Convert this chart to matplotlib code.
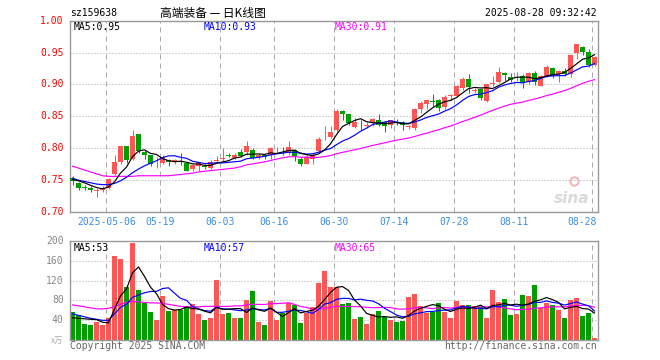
import numpy as np
import pandas as pd
import matplotlib
matplotlib.use('Agg')
import matplotlib.pyplot as plt
from matplotlib.transforms import blended_transform_factory

# daily bars, 2025-04-23 .. 2025-08-28
opens = [0.753, 0.746, 0.739, 0.738, 0.733, 0.734, 0.737, 0.760, 0.778, 0.803,
         0.784, 0.822, 0.794, 0.789, 0.772, 0.777, 0.781, 0.780, 0.780, 0.777,
         0.768, 0.772, 0.773, 0.769, 0.780, 0.784, 0.789, 0.785, 0.794, 0.794,
         0.797, 0.786, 0.789, 0.790, 0.797, 0.798, 0.793, 0.797, 0.784, 0.776,
         0.783, 0.795, 0.817, 0.818, 0.829, 0.859, 0.853, 0.834, 0.840, 0.835,
         0.839, 0.845, 0.841, 0.837, 0.842, 0.841, 0.834, 0.832, 0.861, 0.869,
         0.874, 0.875, 0.865, 0.882, 0.882, 0.895, 0.909, 0.890, 0.893, 0.874,
         0.901, 0.904, 0.918, 0.912, 0.913, 0.914, 0.904, 0.918, 0.898, 0.914,
         0.926, 0.916, 0.921, 0.917, 0.949, 0.959, 0.951, 0.931]
highs = [0.757, 0.747, 0.743, 0.741, 0.737, 0.741, 0.753, 0.789, 0.804, 0.804,
         0.829, 0.823, 0.798, 0.790, 0.786, 0.789, 0.784, 0.784, 0.793, 0.779,
         0.775, 0.779, 0.776, 0.781, 0.788, 0.800, 0.793, 0.792, 0.799, 0.811,
         0.800, 0.793, 0.791, 0.802, 0.802, 0.802, 0.811, 0.799, 0.787, 0.790,
         0.792, 0.817, 0.835, 0.835, 0.861, 0.860, 0.854, 0.847, 0.845, 0.841,
         0.847, 0.854, 0.843, 0.845, 0.846, 0.843, 0.837, 0.863, 0.874, 0.877,
         0.885, 0.877, 0.883, 0.885, 0.899, 0.912, 0.917, 0.894, 0.894, 0.901,
         0.913, 0.928, 0.919, 0.918, 0.919, 0.916, 0.919, 0.921, 0.915, 0.931,
         0.927, 0.923, 0.926, 0.947, 0.964, 0.961, 0.956, 0.944]
lows = [0.743, 0.734, 0.734, 0.732, 0.723, 0.732, 0.736, 0.758, 0.776, 0.777,
        0.782, 0.792, 0.784, 0.772, 0.769, 0.776, 0.772, 0.775, 0.774, 0.764,
        0.764, 0.765, 0.767, 0.768, 0.779, 0.779, 0.787, 0.784, 0.787, 0.790,
        0.783, 0.783, 0.783, 0.784, 0.793, 0.790, 0.790, 0.780, 0.773, 0.775,
        0.775, 0.792, 0.813, 0.816, 0.825, 0.845, 0.836, 0.832, 0.829, 0.832,
        0.835, 0.835, 0.825, 0.832, 0.837, 0.828, 0.831, 0.829, 0.855, 0.862,
        0.867, 0.858, 0.862, 0.876, 0.880, 0.892, 0.886, 0.887, 0.875, 0.873,
        0.898, 0.902, 0.906, 0.904, 0.906, 0.895, 0.901, 0.899, 0.897, 0.911,
        0.910, 0.904, 0.913, 0.911, 0.940, 0.946, 0.928, 0.929]
closes = [0.749, 0.737, 0.738, 0.735, 0.734, 0.738, 0.752, 0.779, 0.803, 0.781,
          0.820, 0.795, 0.789, 0.775, 0.773, 0.787, 0.779, 0.781, 0.779, 0.765,
          0.774, 0.778, 0.770, 0.779, 0.781, 0.785, 0.788, 0.790, 0.788, 0.803,
          0.785, 0.790, 0.786, 0.800, 0.798, 0.797, 0.802, 0.788, 0.776, 0.787,
          0.790, 0.815, 0.818, 0.825, 0.859, 0.854, 0.839, 0.841, 0.839, 0.836,
          0.846, 0.837, 0.835, 0.844, 0.840, 0.837, 0.835, 0.862, 0.871, 0.876,
          0.873, 0.863, 0.881, 0.883, 0.898, 0.909, 0.896, 0.891, 0.879, 0.900,
          0.902, 0.919, 0.915, 0.907, 0.914, 0.903, 0.918, 0.904, 0.914, 0.928,
          0.914, 0.921, 0.917, 0.946, 0.963, 0.951, 0.931, 0.943]
# volume in 万
volumes = [57, 51, 32, 30, 37, 31, 44, 170, 164, 106,
           195, 101, 75, 56, 40, 88, 58, 61, 61, 66,
           72, 53, 40, 44, 121, 53, 54, 45, 45, 81,
           98, 36, 30, 78, 40, 54, 75, 71, 34, 55,
           66, 114, 139, 106, 107, 73, 75, 43, 47, 32,
           53, 58, 47, 40, 37, 38, 86, 92, 68, 55,
           57, 75, 56, 45, 78, 70, 70, 68, 66, 45,
           100, 76, 83, 50, 53, 90, 88, 110, 65, 75,
           70, 60, 45, 80, 85, 48, 55, 5]

# moving averages before enough bars are visible
ma5_head = [0.751, 0.749, 0.746, 0.742]
ma10_head = [0.753, 0.750, 0.748, 0.746, 0.744, 0.743, 0.743, 0.745, 0.749]
ma30_head = [0.772, 0.769, 0.766, 0.763, 0.760, 0.757, 0.756, 0.756, 0.756, 0.756,
             0.756, 0.757, 0.757, 0.757, 0.757, 0.757, 0.757, 0.758, 0.759, 0.760,
             0.761, 0.763, 0.764, 0.765, 0.766, 0.767, 0.768, 0.769, 0.771]
vma5_head = [45, 44, 43, 42]
vma10_head = [53, 50, 47, 44, 42, 40, 40, 53, 66]
vma30_head = [71, 69, 67, 65, 63, 63, 64, 68, 72, 76, 78, 77, 76, 75, 75,
              74, 72, 70, 68, 67, 67, 67, 68, 68, 68, 68, 68, 69, 69]

tick_idx = [6, 15, 25, 34, 44, 54, 64, 74, 87]
tick_labels = ['2025-05-06', '05-19', '06-03', '06-16', '06-30',
               '07-14', '07-28', '08-11', '08-28']
price_ticks = [0.70, 0.75, 0.80, 0.85, 0.90, 0.95, 1.00]
vol_ticks = [40, 80, 120, 160, 200]
vol_legend = ['MA5:53', 'MA10:57', 'MA30:65']


def moving(values, n, head):
    s = pd.Series(values, dtype=float).rolling(n).mean()
    s.iloc[:n - 1] = head
    return s.values


ma5 = moving(closes, 5, ma5_head)
ma10 = moving(closes, 10, ma10_head)
ma30 = moving(closes, 30, ma30_head)
vma5 = moving(volumes, 5, vma5_head)
vma10 = moving(volumes, 10, vma10_head)
vma30 = moving(volumes, 30, vma30_head)

RED = '#ff5555'
GREEN = '#009f00'
GRID = '#aaaaaa'
MONO = 'DejaVu Sans Mono'
W, H = 660, 360

fig = plt.figure(figsize=(6.6, 3.6), dpi=100)


def rect(x0, y0, x1, y1):
    return [x0 / W, 1 - y1 / H, (x1 - x0) / W, (y1 - y0) / H]


ax = fig.add_axes(rect(70, 20.7, 597.7, 212.1))
axv = fig.add_axes(rect(70, 240.7, 597.7, 340.2))

x = np.arange(len(closes))
o = np.array(opens)
c = np.array(closes)
up = c >= o
colors = np.where(up, RED, GREEN)

for a in (ax, axv):
    a.set_xlim(-0.42, 87.53)
    a.set_xticks([])
    a.set_yticks([])
    for s in a.spines.values():
        s.set_color('#999999')
        s.set_linewidth(1)
    for t in tick_idx:
        a.axvline(t - 0.35, color=GRID, lw=0.72, linestyle=(0, (5, 4)), zorder=0)

# price panel
ax.set_ylim(0.70, 1.00)
for p in price_ticks[1:-1]:
    ax.axhline(p, color=GRID, lw=0.72, linestyle=(0, (1, 2)), zorder=0)
ax.vlines(x, lows, highs, colors=colors, lw=0.75, zorder=2)
body = np.maximum(np.abs(c - o), 0.0009)
ax.bar(x, body, bottom=np.minimum(o, c), width=0.82, color=colors, zorder=3, linewidth=0)
ax.plot(x, ma30, color='#ff00ff', lw=0.85, zorder=4)
ax.plot(x, ma10, color='#0000ff', lw=0.85, zorder=4)
ax.plot(x, ma5, color='black', lw=0.85, zorder=4)

for p in price_ticks:
    ax.text(-0.012, p, f'{p:.2f}', transform=blended_transform_factory(ax.transAxes, ax.transData),
            ha='right', va='center', color='#ff0000', family=MONO, fontsize=7)

bt = blended_transform_factory(ax.transData, ax.transAxes)
for t, lab in zip(tick_idx, tick_labels):
    ha = 'right' if t == tick_idx[-1] else 'center'
    xx = 87.4 if t == tick_idx[-1] else t - 0.35
    ax.text(xx, -0.052, lab, transform=bt, ha=ha, va='center',
            color='#3a8ee6', family=MONO, fontsize=7)

ax.text(4 / 527.7, 1 - 6.5 / 191.4, f'MA5:{ma5[-1]:.2f}', transform=ax.transAxes,
        ha='left', va='center', color='black', family=MONO, fontsize=7)
ax.text(134 / 527.7, 1 - 6.5 / 191.4, f'MA10:{ma10[-1]:.2f}', transform=ax.transAxes,
        ha='left', va='center', color='#0000ff', family=MONO, fontsize=7)
ax.text(264.5 / 527.7, 1 - 6.5 / 191.4, f'MA30:{ma30[-1]:.2f}', transform=ax.transAxes,
        ha='left', va='center', color='#ff00ff', family=MONO, fontsize=7)

# sina watermark
ax.text(0.985, 0.07, 'sina', transform=ax.transAxes, ha='right', va='center',
        color='#d9d9d9', fontsize=11, fontweight='bold', style='italic', zorder=1)
ax.plot([0.955], [0.16], 'o', transform=ax.transAxes, ms=6, mfc='none',
        mec='#f4b6b6', mew=1.5, zorder=1)

# volume panel
axv.set_ylim(0, 200)
for v in vol_ticks[:-1]:
    axv.axhline(v, color=GRID, lw=0.72, linestyle=(0, (1, 2)), zorder=0)
axv.bar(x, volumes, width=0.82, color=colors, linewidth=0, zorder=2)
axv.plot(x, vma30, color='#ff00ff', lw=0.85, zorder=3)
axv.plot(x, vma10, color='#0000ff', lw=0.85, zorder=3)
axv.plot(x, vma5, color='black', lw=0.85, zorder=3)
for v in vol_ticks:
    axv.text(-0.012, v, str(v), transform=blended_transform_factory(axv.transAxes, axv.transData),
             ha='right', va='center', color='#888888', family=MONO, fontsize=7)
axv.text(-0.012, 0, 'x万', transform=blended_transform_factory(axv.transAxes, axv.transData),
         ha='right', va='center', color='#aaaaaa', family=['Noto Sans CJK SC', 'DejaVu Sans'], fontsize=6)
for xt, lab, col in zip([4, 134, 264.5], vol_legend, ['black', '#0000ff', '#ff00ff']):
    axv.text(xt / 527.7, 1 - 7 / 99.5, lab, transform=axv.transAxes, ha='left', va='center',
             color=col, family=MONO, fontsize=7)

# header / footer
fig.text(70 / W, 1 - 13 / H, 'sz159638', ha='left', va='center', color='black', family=MONO, fontsize=7)
fig.text(213 / W, 1 - 13 / H, '高端装备 — 日K线图', ha='center', va='center', color='black',
         family=['Noto Sans CJK SC', 'DejaVu Sans'], fontsize=8.5)
fig.text(597 / W, 1 - 13 / H, '2025-08-28 09:32:42', ha='right', va='center', color='black',
         family=MONO, fontsize=7)
fig.text(70 / W, 1 - 346 / H, 'Copyright 2025 SINA.COM', ha='left', va='center', color='#666666',
         family=MONO, fontsize=7)
fig.text(597 / W, 1 - 346 / H, 'http://finance.sina.com.cn', ha='right', va='center', color='#666666',
         family=MONO, fontsize=7)

fig.savefig('out.png', dpi=100)
